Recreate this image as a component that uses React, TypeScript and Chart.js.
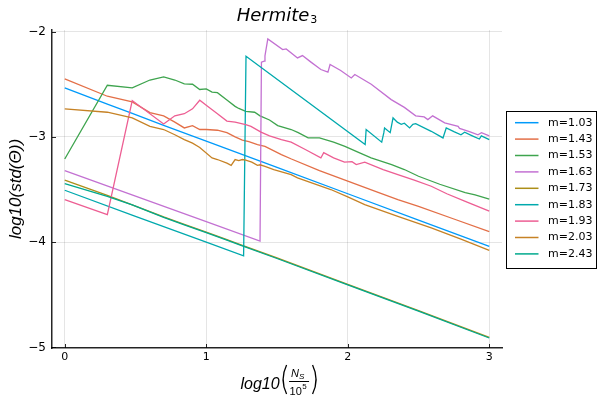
import React, { useEffect, useRef } from "react";
import { Chart, registerables } from "chart.js";

Chart.register(...registerables);

// ---------------- data ----------------
const seriesLabels = ["m=1.03", "m=1.43", "m=1.53", "m=1.63", "m=1.73", "m=1.83", "m=1.93", "m=2.03", "m=2.43"];
const seriesColors = ["#009AFA", "#E36F47", "#3EA44E", "#C371D2", "#AC8E18", "#00A9AD", "#ED5E93", "#C68225", "#00A98D"];

const m103: [number, number][] = [
  [0, -2.535], [0.301, -2.688], [0.477, -2.777], [0.699, -2.89], [1, -3.04], [1.5, -3.29], [2, -3.54], [2.5, -3.79], [3, -4.04],
];
const m143: [number, number][] = [
  [0, -2.449], [0.301, -2.614], [0.477, -2.668], [0.602, -2.77], [0.699, -2.8], [0.778, -2.86], [0.845, -2.915], [0.903, -2.893],
  [0.954, -2.93], [1.0, -2.93], [1.079, -2.937], [1.146, -2.96], [1.204, -3.0], [1.255, -3.03], [1.301, -3.045], [1.362, -3.073],
  [1.415, -3.09], [1.531, -3.168], [1.602, -3.21], [1.8, -3.32], [2.0, -3.42], [2.2, -3.52], [2.354, -3.595], [2.5, -3.66],
  [2.75, -3.78], [3.0, -3.9],
];
const m153: [number, number][] = [
  [0, -3.21], [0.301, -2.51], [0.477, -2.535], [0.602, -2.46], [0.699, -2.43], [0.778, -2.46], [0.845, -2.497], [0.903, -2.5],
  [0.954, -2.55], [1.0, -2.544], [1.041, -2.575], [1.079, -2.58], [1.146, -2.65], [1.204, -2.71], [1.23, -2.73], [1.279, -2.757],
  [1.342, -2.766], [1.38, -2.8], [1.447, -2.84], [1.505, -2.893], [1.6, -2.93], [1.65, -2.96], [1.72, -3.01], [1.8, -3.01],
  [1.9, -3.05], [1.98, -3.09], [2.08, -3.15], [2.165, -3.2], [2.31, -3.263], [2.4, -3.31], [2.5, -3.374], [2.65, -3.45],
  [2.83, -3.53], [2.9, -3.55], [3.0, -3.59],
];
const m163: [number, number][] = [
  [0, -3.32], [0.5, -3.563], [1.0, -3.805], [1.38, -3.99], [1.39, -2.29], [1.41, -2.28], [1.415, -2.23], [1.435, -2.07],
  [1.54, -2.171], [1.565, -2.165], [1.645, -2.25], [1.68, -2.228], [1.74, -2.29], [1.81, -2.36], [1.86, -2.386], [1.875, -2.313],
  [1.95, -2.37], [2.025, -2.44], [2.05, -2.408], [2.166, -2.5], [2.307, -2.646], [2.4, -2.72], [2.48, -2.8], [2.54, -2.81],
  [2.566, -2.836], [2.6, -2.8], [2.685, -2.867], [2.78, -2.9], [2.79, -2.92], [2.86, -2.95], [2.92, -2.98], [2.945, -2.96],
  [3.0, -2.99],
];
const m173: [number, number][] = [
  [0, -3.41], [0.301, -3.555], [0.477, -3.645], [0.699, -3.76], [0.845, -3.83], [1.0, -3.905], [1.146, -3.975], [1.255, -4.03],
  [1.5, -4.15], [2, -4.4], [2.5, -4.65], [3, -4.905],
];
const m183: [number, number][] = [
  [0, -3.507], [0.5, -3.754], [1.0, -4.0], [1.264, -4.13], [1.281, -2.234], [2.123, -3.073], [2.13, -2.93], [2.24, -3.05],
  [2.255, -2.96], [2.26, -2.915], [2.3, -2.96], [2.32, -2.82], [2.35, -2.86], [2.378, -2.88], [2.4, -2.87], [2.437, -2.915],
  [2.46, -2.88], [2.48, -2.875], [2.59, -2.947], [2.673, -3.01], [2.696, -2.915], [2.75, -2.95], [2.8, -2.98], [2.826, -2.956],
  [2.88, -2.99], [2.93, -3.02], [2.944, -2.99], [3.0, -3.026],
];
const m193: [number, number][] = [
  [0, -3.595], [0.301, -3.738], [0.477, -2.655], [0.699, -2.877], [0.778, -2.8], [0.845, -2.78], [0.903, -2.734], [0.954, -2.652],
  [1.0, -2.7], [1.079, -2.78], [1.146, -2.85], [1.204, -2.86], [1.279, -2.883], [1.316, -2.9], [1.387, -2.955], [1.447, -2.99],
  [1.531, -3.026], [1.6, -3.05], [1.7, -3.12], [1.81, -3.2], [1.83, -3.15], [1.9, -3.2], [1.977, -3.24], [2.03, -3.235],
  [2.06, -3.263], [2.12, -3.24], [2.25, -3.31], [2.354, -3.358], [2.47, -3.41], [2.59, -3.469], [2.7, -3.54], [2.826, -3.61],
  [2.9, -3.65], [3.0, -3.706],
];
const m203: [number, number][] = [
  [0, -2.734], [0.301, -2.766], [0.477, -2.82], [0.602, -2.9], [0.699, -2.93], [0.778, -2.98], [0.845, -3.026], [0.903, -3.06],
  [0.954, -3.1], [1.041, -3.2], [1.079, -3.215], [1.146, -3.25], [1.176, -3.27], [1.204, -3.215], [1.23, -3.225], [1.255, -3.215],
  [1.279, -3.22], [1.322, -3.24], [1.362, -3.27], [1.38, -3.265], [1.415, -3.28], [1.477, -3.31], [1.6, -3.358], [1.645, -3.39],
  [1.75, -3.44], [1.88, -3.5], [2.0, -3.57], [2.12, -3.643], [2.354, -3.754], [2.59, -3.864], [2.8, -3.97], [3.0, -4.077],
];
const m243: [number, number][] = [
  [0, -3.443], [0.301, -3.565], [0.477, -3.645], [0.699, -3.765], [0.845, -3.835], [1.0, -3.91], [1.146, -3.98], [1.255, -4.035],
  [1.5, -4.155], [2, -4.405], [2.5, -4.655], [3, -4.91],
];
const allSeries = [m103, m143, m153, m163, m173, m183, m193, m203, m243];

const xTicks = [0, 1, 2, 3];
const xTickLabels = ["0", "1", "2", "3"];
const yTicks = [-5, -4, -3, -2];
const yTickLabels = ["\u22125", "\u22124", "\u22123", "\u22122"];

const titleMain = "Hermite";
const titleSub = "3";
const yAxisTitle = "log10(std(\u0398))";

// ---------------- decoration plugin ----------------
const decorPlugin = {
  id: "decor",
  afterDraw(chart: any) {
    const ctx = chart.ctx as CanvasRenderingContext2D;
    const area = chart.chartArea;
    const xs = chart.scales.x;
    const ys = chart.scales.y;
    ctx.save();

    // inward ticks
    ctx.strokeStyle = "rgba(0,0,0,0.85)";
    ctx.lineWidth = 1;
    ctx.beginPath();
    xTicks.forEach((v) => {
      const px = Math.round(xs.getPixelForValue(v)) + 0.5;
      ctx.moveTo(px, area.bottom);
      ctx.lineTo(px, area.bottom - 4);
    });
    yTicks.forEach((v) => {
      const py = Math.round(ys.getPixelForValue(v)) + 0.5;
      ctx.moveTo(area.left, py);
      ctx.lineTo(area.left + 4, py);
    });
    ctx.stroke();

    ctx.fillStyle = "#000";
    // title
    const cx = (area.left + area.right) / 2;
    ctx.font = "italic 18px 'DejaVu Sans'";
    const wMain = ctx.measureText(titleMain).width;
    ctx.font = "11px 'DejaVu Sans'";
    const wSub = ctx.measureText(titleSub).width;
    const tx = cx - (wMain + wSub + 1) / 2;
    ctx.textBaseline = "alphabetic";
    ctx.textAlign = "left";
    ctx.font = "italic 18px 'DejaVu Sans'";
    ctx.fillText(titleMain, tx, 20.5);
    ctx.font = "11px 'DejaVu Sans'";
    ctx.fillText(titleSub, tx + wMain + 1, 23);

    // y axis title
    ctx.save();
    ctx.translate(16, (area.top + area.bottom) / 2);
    ctx.rotate(-Math.PI / 2);
    ctx.font = "italic 17px 'Liberation Sans'";
    ctx.textAlign = "center";
    ctx.textBaseline = "middle";
    ctx.fillText(yAxisTitle, 0, 0);
    ctx.restore();

    // x axis title: log10( N_S / 10^5 )
    ctx.font = "italic 16px 'Liberation Sans'";
    ctx.textAlign = "left";
    ctx.textBaseline = "alphabetic";
    const lw = ctx.measureText("log10").width;
    const total = lw + 4 + 26 + 6;
    const x0 = cx - total / 2 + 1;
    ctx.fillText("log10", x0, 388.5);
    const px = x0 + lw + 2;
    // left paren
    ctx.lineWidth = 1.3;
    ctx.strokeStyle = "#000";
    ctx.beginPath();
    ctx.moveTo(px + 5, 365);
    ctx.quadraticCurveTo(px - 2, 379.5, px + 5, 394);
    ctx.stroke();
    const fx = px + 8;
    ctx.font = "italic 11px 'Liberation Sans'";
    ctx.fillText("N", fx + 1.5, 377);
    const nW = ctx.measureText("N").width;
    ctx.font = "italic 8px 'Liberation Sans'";
    ctx.fillText("S", fx + 1.5 + nW, 379);
    ctx.font = "11px 'Liberation Sans'";
    ctx.fillText("10", fx, 394.5);
    const tW = ctx.measureText("10").width;
    ctx.font = "8px 'Liberation Sans'";
    ctx.fillText("5", fx + tW + 0.5, 389);
    ctx.beginPath();
    ctx.lineWidth = 1;
    ctx.moveTo(fx - 0.5, 381.5);
    ctx.lineTo(fx + 19.5, 381.5);
    ctx.stroke();
    // right paren
    const rp = fx + 23;
    ctx.lineWidth = 1.3;
    ctx.beginPath();
    ctx.moveTo(rp, 365);
    ctx.quadraticCurveTo(rp + 7, 379.5, rp, 394);
    ctx.stroke();

    // legend
    const lx = 506.5, ly = 111.5, lwid = 90, lh = 157;
    ctx.fillStyle = "#fff";
    ctx.fillRect(lx, ly, lwid, lh);
    ctx.strokeStyle = "#000";
    ctx.lineWidth = 1;
    ctx.strokeRect(lx, ly, lwid, lh);
    ctx.font = "11px 'DejaVu Sans'";
    ctx.textBaseline = "middle";
    ctx.textAlign = "left";
    seriesLabels.forEach((lab, i) => {
      const yy = 122.7 + i * 16.4;
      ctx.strokeStyle = seriesColors[i];
      ctx.lineWidth = 1.5;
      ctx.beginPath();
      ctx.moveTo(515, yy);
      ctx.lineTo(538.5, yy);
      ctx.stroke();
      ctx.fillStyle = "#000";
      ctx.fillText(lab, 548, yy);
    });

    ctx.restore();
  },
};

export default function App() {
  const ref = useRef<HTMLCanvasElement | null>(null);
  useEffect(() => {
    document.body.style.margin = "0";
    const canvas = ref.current;
    if (!canvas) return;
    const datasets = allSeries.map((pts, i) => ({
      label: seriesLabels[i],
      data: pts.map(([x, y]) => ({ x, y })),
      borderColor: seriesColors[i],
      backgroundColor: seriesColors[i],
      borderWidth: 1.3,
      pointRadius: 0,
      fill: false,
      tension: 0,
      order: allSeries.length - i,
    }));
    const chart = new Chart(canvas, {
      type: "line",
      data: { datasets },
      plugins: [decorPlugin],
      options: {
        responsive: false,
        animation: false,
        devicePixelRatio: 1,
        layout: { padding: { left: 0, right: 95, top: 30, bottom: 0 } },
        plugins: {
          legend: { display: false },
          title: { display: false },
          tooltip: { enabled: false },
        },
        scales: {
          x: {
            type: "linear",
            min: -0.09,
            max: 3.09,
            afterBuildTicks: (s: any) => {
              s.ticks = xTicks.map((v) => ({ value: v }));
            },
            afterFit: (s: any) => {
              s.height = 50;
            },
            ticks: {
              callback: (v: any) => {
                const i = xTicks.indexOf(Number(v));
                return i >= 0 ? xTickLabels[i] : "";
              },
              font: { family: "DejaVu Sans", size: 11 },
              color: "#000",
              padding: 3,
              maxRotation: 0,
              autoSkip: false,
            },
            grid: { color: "rgba(0,0,0,0.1)", lineWidth: 1, drawTicks: false },
            border: { display: true, color: "rgba(0,0,0,0.85)", width: 1.5 },
          },
          y: {
            type: "linear",
            min: -5.005,
            max: -1.985,
            afterBuildTicks: (s: any) => {
              s.ticks = yTicks.map((v) => ({ value: v }));
            },
            afterFit: (s: any) => {
              s.width = 52;
            },
            ticks: {
              callback: (v: any) => {
                const i = yTicks.indexOf(Number(v));
                return i >= 0 ? yTickLabels[i] : "";
              },
              font: { family: "DejaVu Sans", size: 12 },
              color: "#000",
              padding: 6,
              autoSkip: false,
            },
            grid: { color: "rgba(0,0,0,0.1)", lineWidth: 1, drawTicks: false },
            border: { display: true, color: "rgba(0,0,0,0.85)", width: 1.5 },
          },
        },
      },
    } as any);
    return () => chart.destroy();
  }, []);
  return (
    <div style={{ width: 597, height: 398 }}>
      <canvas ref={ref} width={597} height={398} style={{ display: "block", width: 597, height: 398 }} />
    </div>
  );
}
